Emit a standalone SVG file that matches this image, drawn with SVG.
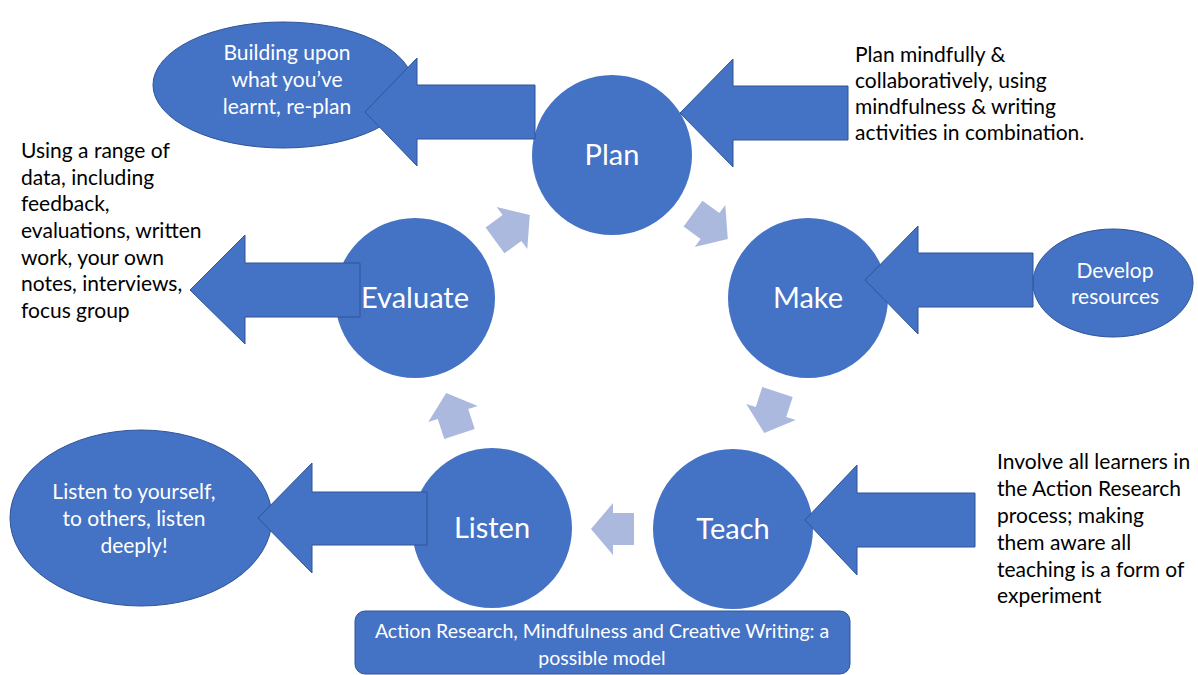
<svg xmlns="http://www.w3.org/2000/svg" width="1198" height="675" viewBox="0 0 1198 675">
  <style>
    .node { fill: #4472C4; }
    .outlined { fill: #4472C4; stroke: #2F5597; stroke-width: 1; }
    .step { fill: #ABB9DE; }
    .label { font-family: Lato, "Open Sans", sans-serif; fill: #FFFFFF; text-anchor: middle; }
    .big { font-size: 29px; }
    .mid { font-size: 21px; }
    .note { font-family: Lato, "Open Sans", sans-serif; font-size: 21px; fill: #000000; }
    .title { font-size: 19.5px; }
  </style>
  <defs>
    <!-- small cycle arrow, pointing along +x, origin at the head base -->
    <path id="step-arrow" d="M-21,-16 L0,-16 L0,-26 L22,0 L0,26 L0,16 L-21,16 Z"/>
  </defs>

  <rect width="1198" height="675" fill="#FFFFFF"/>

  <!-- side ellipses -->
  <g id="replan">
    <ellipse class="outlined" cx="283" cy="85" rx="130" ry="63"/>
    <text class="label mid" x="287" y="60">Building upon</text>
    <text class="label mid" x="287" y="87">what you’ve</text>
    <text class="label mid" x="287" y="114">learnt, re-plan</text>
  </g>
  <g id="develop">
    <ellipse class="outlined" cx="1113" cy="283" rx="80" ry="54"/>
    <text class="label mid" x="1115" y="278">Develop</text>
    <text class="label mid" x="1115" y="304">resources</text>
  </g>
  <g id="listen-note">
    <ellipse class="outlined" cx="141" cy="518" rx="131" ry="88"/>
    <text class="label mid" x="134" y="499">Listen to yourself,</text>
    <text class="label mid" x="134" y="526">to others, listen</text>
    <text class="label mid" x="134" y="553">deeply!</text>
  </g>

  <!-- cycle stages -->
  <g id="plan">
    <circle class="node" cx="612" cy="155" r="80"/>
    <text class="label big" x="612" y="165">Plan</text>
  </g>
  <g id="make">
    <circle class="node" cx="808" cy="298" r="80"/>
    <text class="label big" x="808" y="308">Make</text>
  </g>
  <g id="teach">
    <circle class="node" cx="733" cy="529" r="80"/>
    <text class="label big" x="733" y="539">Teach</text>
  </g>
  <g id="listen">
    <circle class="node" cx="492" cy="528" r="80"/>
    <text class="label big" x="492" y="538">Listen</text>
  </g>
  <g id="evaluate">
    <circle class="node" cx="415" cy="298" r="80"/>
    <text class="label big" x="415" y="308">Evaluate</text>
  </g>

  <!-- connectors: cycle steps and block arrows -->
  <g id="connectors">
    <use href="#step-arrow" class="step" transform="translate(710,226) rotate(36)"/>
    <use href="#step-arrow" class="step" transform="translate(771,412) rotate(108)"/>
    <use href="#step-arrow" class="step" transform="translate(613,529) rotate(180)"/>
    <use href="#step-arrow" class="step" transform="translate(453,414) rotate(-108)"/>
    <use href="#step-arrow" class="step" transform="translate(512,228) rotate(-36)"/>

    <path class="outlined" d="M365,112 L417,58 L417,85 L535,85 L535,139 L417,139 L417,166 Z"/>
    <path class="outlined" d="M680,113 L733,59 L733,86 L848,86 L848,140 L733,140 L733,167 Z"/>
    <path class="outlined" d="M865,280 L918,226 L918,253 L1033,253 L1033,307 L918,307 L918,334 Z"/>
    <path class="outlined" d="M190,290 L245,235 L245,263 L360,263 L360,317 L245,317 L245,344 Z"/>
    <path class="outlined" d="M258,518 L312,463 L312,492 L427,492 L427,545 L312,545 L312,573 Z"/>
    <path class="outlined" d="M805,520 L857,465 L857,493 L975,493 L975,547 L857,547 L857,575 Z"/>
  </g>

  <!-- free text notes -->
  <g id="plan-note">
    <text class="note" x="855" y="62">Plan mindfully &amp;</text>
    <text class="note" x="855" y="88">collaboratively, using</text>
    <text class="note" x="855" y="114">mindfulness &amp; writing</text>
    <text class="note" x="855" y="140">activities in combination.</text>
  </g>
  <g id="evaluate-note">
    <text class="note" x="21" y="158">Using a range of</text>
    <text class="note" x="21" y="185">data, including</text>
    <text class="note" x="21" y="211">feedback,</text>
    <text class="note" x="21" y="238">evaluations, written</text>
    <text class="note" x="21" y="265">work, your own</text>
    <text class="note" x="21" y="291">notes, interviews,</text>
    <text class="note" x="21" y="318">focus group</text>
  </g>
  <g id="teach-note">
    <text class="note" x="997" y="469">Involve all learners in</text>
    <text class="note" x="997" y="496">the Action Research</text>
    <text class="note" x="997" y="523">process; making</text>
    <text class="note" x="997" y="550">them aware all</text>
    <text class="note" x="997" y="577">teaching is a form of</text>
    <text class="note" x="997" y="603">experiment</text>
  </g>

  <!-- caption banner -->
  <g id="caption">
    <rect class="outlined" x="355" y="611" width="495" height="63" rx="10" ry="10"/>
    <text class="label title" x="602" y="638">Action Research, Mindfulness and Creative Writing: a</text>
    <text class="label title" x="602" y="665">possible model</text>
  </g>
</svg>
